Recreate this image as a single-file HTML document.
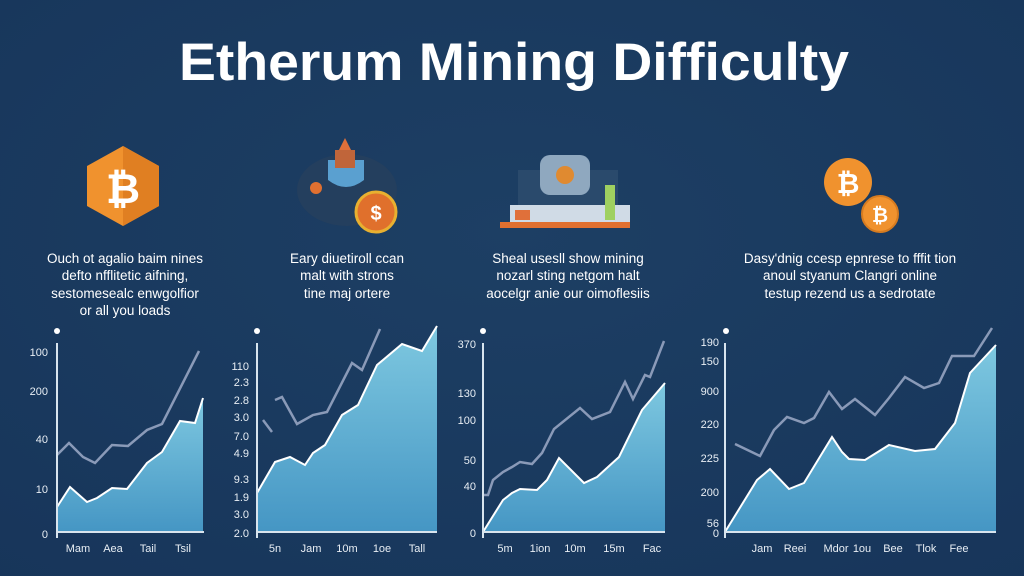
<!DOCTYPE html>
<html><head><meta charset="utf-8"><style>
html,body{margin:0;padding:0;background:#1a3a5d;}
svg{display:block}
text{font-family:"Liberation Sans",sans-serif;}
</style></head><body>
<svg width="1024" height="576" viewBox="0 0 1024 576" xmlns="http://www.w3.org/2000/svg">
<defs>
<linearGradient id="g" x1="0" y1="0" x2="0" y2="1">
<stop offset="0" stop-color="#7ec8e0"/><stop offset="1" stop-color="#4596c4"/>
</linearGradient>
<radialGradient id="bg" cx="0.5" cy="0.4" r="0.8">
<stop offset="0" stop-color="#1d3f64"/><stop offset="1" stop-color="#17355a"/>
</radialGradient>
</defs>
<rect width="1024" height="576" fill="url(#bg)"/>
<text x="514" y="80" text-anchor="middle" font-size="53" font-weight="bold" fill="#fff" textLength="670" lengthAdjust="spacingAndGlyphs">Etherum Mining Difficulty</text>

<!-- icons -->
<polygon points="123,146 159,166 159,206 123,226 87,206 87,166" fill="#f0922e"/>
<polygon points="123,146 159,166 159,206 123,226" fill="#e07f22"/>
<text x="123" y="203" text-anchor="middle" font-size="42" font-weight="bold" fill="#fff">₿</text>

<ellipse cx="347" cy="190" rx="50" ry="36" fill="#243f5e"/>
<path d="M328,160 h36 v20 q-18,14 -36,0z" fill="#5aa0d0"/>
<rect x="335" y="150" width="20" height="18" fill="#c0653a"/>
<polygon points="339,150 345,138 351,150" fill="#e0703a"/>
<circle cx="376" cy="212" r="20" fill="#e0702c" stroke="#e8b030" stroke-width="3"/>
<text x="376" y="220" text-anchor="middle" font-size="20" font-weight="bold" fill="#fff">$</text>
<circle cx="316" cy="188" r="6" fill="#e07030"/>

<rect x="518" y="170" width="100" height="55" fill="#2a4a6c"/>
<rect x="540" y="155" width="50" height="40" rx="10" fill="#8fa8bf"/>
<circle cx="565" cy="175" r="9" fill="#e08a30"/>
<rect x="510" y="205" width="120" height="18" fill="#d0dbe6"/>
<rect x="515" y="210" width="15" height="10" fill="#e0703a"/>
<rect x="605" y="185" width="10" height="35" fill="#9fd060"/>
<rect x="500" y="222" width="130" height="6" fill="#e07030"/>

<circle cx="848" cy="182" r="24" fill="#f0922e"/>
<text x="848" y="193" text-anchor="middle" font-size="28" font-weight="bold" fill="#fff">₿</text>
<circle cx="880" cy="214" r="18" fill="#f0922e" stroke="#d67b20" stroke-width="2"/>
<text x="880" y="222" text-anchor="middle" font-size="20" font-weight="bold" fill="#fff">₿</text>

<!-- text blocks -->
<g font-size="13.5" fill="#fff" text-anchor="middle">
<text x="125" y="263">Ouch ot agalio baim nines</text>
<text x="125" y="280">defto nfflitetic aifning,</text>
<text x="125" y="298">sestomesealc enwgolfior</text>
<text x="125" y="315">or all you loads</text>
<text x="347" y="263">Eary diuetiroll ccan</text>
<text x="347" y="280">malt with strons</text>
<text x="347" y="298">tine maj ortere</text>
<text x="568" y="263">Sheal usesll show mining</text>
<text x="568" y="280">nozarl sting netgom halt</text>
<text x="568" y="298">aocelgr anie our oimoflesiis</text>
<text x="850" y="263">Dasy'dnig ccesp epnrese to fffit tion</text>
<text x="850" y="280">anoul styanum Clangri online</text>
<text x="850" y="298">testup rezend us a sedrotate</text>
</g>

<!-- chart 1 -->
<polygon points="57,532 57,507 70,487 87,502 97,498 112,488 127,489 147,463 162,452 180,421 195,423 203,398 203,532" fill="url(#g)"/>
<polyline points="57,507 70,487 87,502 97,498 112,488 127,489 147,463 162,452 180,421 195,423 203,398" fill="none" stroke="#fff" stroke-width="2"/>
<polyline points="57,455 69,443 83,457 95,463 112,445 128,446 147,430 162,424 199,351" fill="none" stroke="#8a9ab8" stroke-width="2.5"/>
<line x1="57" y1="343" x2="57" y2="538" stroke="#d8e4ee" stroke-width="2"/>
<line x1="57" y1="532" x2="204" y2="532" stroke="#d8e4ee" stroke-width="2"/>
<circle cx="57" cy="331" r="3" fill="#fff"/>
<g font-size="11" fill="#e8eef4" text-anchor="end">
<text x="48" y="356">100</text><text x="48" y="395">200</text><text x="48" y="443">40</text><text x="48" y="493">10</text><text x="48" y="538">0</text>
</g>
<g font-size="11" fill="#e8eef4" text-anchor="middle">
<text x="78" y="552">Mam</text><text x="113" y="552">Aea</text><text x="148" y="552">Tail</text><text x="183" y="552">Tsil</text>
</g>

<!-- chart 2 -->
<polygon points="257,532 257,493 275,462 290,457 305,465 313,453 325,445 342,415 358,405 377,365 402,344 422,351 437,326 437,532" fill="url(#g)"/>
<polyline points="257,493 275,462 290,457 305,465 313,453 325,445 342,415 358,405 377,365 402,344 422,351 437,326" fill="none" stroke="#fff" stroke-width="2"/>
<line x1="263" y1="420" x2="272" y2="432" stroke="#8a9ab8" stroke-width="2.5"/>
<polyline points="275,400 282,397 297,424 313,415 327,412 352,363 362,370 380,329" fill="none" stroke="#8a9ab8" stroke-width="2.5"/>
<line x1="257" y1="343" x2="257" y2="538" stroke="#d8e4ee" stroke-width="2"/>
<line x1="257" y1="532" x2="437" y2="532" stroke="#d8e4ee" stroke-width="2"/>
<circle cx="257" cy="331" r="3" fill="#fff"/>
<g font-size="11" fill="#e8eef4" text-anchor="end">
<text x="249" y="370">110</text><text x="249" y="386">2.3</text><text x="249" y="404">2.8</text><text x="249" y="421">3.0</text><text x="249" y="440">7.0</text><text x="249" y="457">4.9</text><text x="249" y="483">9.3</text><text x="249" y="501">1.9</text><text x="249" y="518">3.0</text><text x="249" y="537">2.0</text>
</g>
<g font-size="11" fill="#e8eef4" text-anchor="middle">
<text x="275" y="552">5n</text><text x="311" y="552">Jam</text><text x="347" y="552">10m</text><text x="382" y="552">1oe</text><text x="417" y="552">Tall</text>
</g>

<!-- chart 3 -->
<polygon points="483,532 503,500 512,493 520,489 537,490 547,480 559,458 584,483 597,477 619,457 642,410 665,383 665,532" fill="url(#g)"/>
<polyline points="483,532 503,500 512,493 520,489 537,490 547,480 559,458 584,483 597,477 619,457 642,410 665,383" fill="none" stroke="#fff" stroke-width="2"/>
<polyline points="483,495 488,495 493,480 503,472 512,467 520,462 532,464 542,453 554,429 580,408 592,419 610,412 625,382 633,399 645,375 650,377 664,341" fill="none" stroke="#8a9ab8" stroke-width="2.5"/>
<line x1="483" y1="343" x2="483" y2="538" stroke="#d8e4ee" stroke-width="2"/>
<line x1="483" y1="532" x2="665" y2="532" stroke="#d8e4ee" stroke-width="2"/>
<circle cx="483" cy="331" r="3" fill="#fff"/>
<g font-size="11" fill="#e8eef4" text-anchor="end">
<text x="476" y="348">370</text><text x="476" y="397">130</text><text x="476" y="424">100</text><text x="476" y="464">50</text><text x="476" y="490">40</text><text x="476" y="537">0</text>
</g>
<g font-size="11" fill="#e8eef4" text-anchor="middle">
<text x="505" y="552">5m</text><text x="540" y="552">1ion</text><text x="575" y="552">10m</text><text x="614" y="552">15m</text><text x="652" y="552">Fac</text>
</g>

<!-- chart 4 -->
<polygon points="725,532 757,480 770,469 789,489 804,483 832,437 842,452 849,459 865,460 889,445 915,451 935,449 955,423 970,373 996,345 996,532" fill="url(#g)"/>
<polyline points="725,532 757,480 770,469 789,489 804,483 832,437 842,452 849,459 865,460 889,445 915,451 935,449 955,423 970,373 996,345" fill="none" stroke="#fff" stroke-width="2"/>
<polyline points="735,444 760,456 774,430 787,417 804,423 814,418 829,392 842,409 855,399 875,415 889,398 905,377 924,388 939,383 952,356 974,356 992,328" fill="none" stroke="#8a9ab8" stroke-width="2.5"/>
<line x1="725" y1="343" x2="725" y2="538" stroke="#d8e4ee" stroke-width="2"/>
<line x1="725" y1="532" x2="996" y2="532" stroke="#d8e4ee" stroke-width="2"/>
<circle cx="726" cy="331" r="3" fill="#fff"/>
<g font-size="11" fill="#e8eef4" text-anchor="end">
<text x="719" y="346">190</text><text x="719" y="365">150</text><text x="719" y="395">900</text><text x="719" y="428">220</text><text x="719" y="462">225</text><text x="719" y="496">200</text><text x="719" y="527">56</text><text x="719" y="537">0</text>
</g>
<g font-size="11" fill="#e8eef4" text-anchor="middle">
<text x="762" y="552">Jam</text><text x="795" y="552">Reei</text><text x="836" y="552">Mdor</text><text x="862" y="552">1ou</text><text x="893" y="552">Bee</text><text x="926" y="552">Tlok</text><text x="959" y="552">Fee</text>
</g>
</svg>
</body></html>
